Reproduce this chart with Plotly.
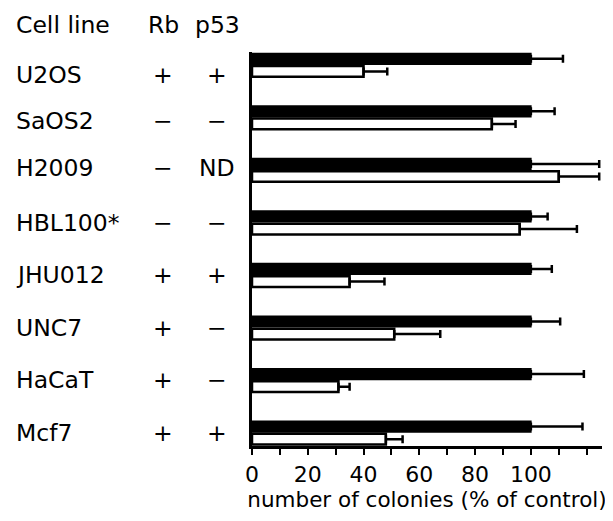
import plotly.graph_objects as go

cell_lines = ["U2OS", "SaOS2", "H2009", "HBL100*", "JHU012", "UNC7", "HaCaT", "Mcf7"]
rb_status = ["+", "−", "−", "−", "+", "+", "+", "+"]
p53_status = ["+", "−", "ND", "−", "+", "−", "−", "+"]

control_values = [100, 100, 100, 100, 100, 100, 100, 100]
control_err = [11.5, 8.5, 24.5, 6, 7.5, 10.5, 19, 18.5]
treated_values = [40, 86, 110, 96, 35, 51, 31, 48]
treated_err = [8.5, 8.5, 14.5, 20.5, 12.5, 16.5, 4, 6]

tick_vals = [0, 10, 20, 30, 40, 50, 60, 70, 80, 90, 100, 110, 120]
tick_text = ["0", "", "20", "", "40", "", "60", "", "80", "", "100", "", ""]

FONT = "DejaVu Sans"
LABEL_SIZE = 23.5
positions = list(range(len(cell_lines)))

fig = go.Figure()
fig.add_trace(go.Bar(
    y=positions, x=control_values, orientation="h",
    marker=dict(color="black", line=dict(color="black", width=1.5)),
    error_x=dict(type="data", symmetric=False, array=control_err,
                 arrayminus=[0] * len(control_err), color="black",
                 thickness=2.5, width=4),
    showlegend=False,
))
fig.add_trace(go.Bar(
    y=positions, x=treated_values, orientation="h",
    marker=dict(color="white", line=dict(color="black", width=2.5)),
    error_x=dict(type="data", symmetric=False, array=treated_err,
                 arrayminus=[0] * len(treated_err), color="black",
                 thickness=2.5, width=4),
    showlegend=False,
))

# small vertical nudges of the row labels, as in the original layout
row_nudge = {"U2OS": -10, "SaOS2": -3, "H2009": 2}

annotations = []
x_name, x_rb, x_p53 = -0.68, -0.253, -0.10
for i, (name, rb, p53) in enumerate(zip(cell_lines, rb_status, p53_status)):
    ys = row_nudge.get(name, 0)
    for txt, xx, anchor in [(name, x_name, "left"), (rb, x_rb, "center"), (p53, x_p53, "center")]:
        annotations.append(dict(x=xx, y=i, xref="paper", yref="y", text=txt,
                                showarrow=False, xanchor=anchor, yanchor="middle",
                                yshift=ys,
                                font=dict(size=LABEL_SIZE, family=FONT, color="black")))
for txt, xx, anchor in [("Cell line", x_name, "left"), ("Rb", x_rb, "center"), ("p53", x_p53, "center")]:
    annotations.append(dict(x=xx, y=1.068, xref="paper", yref="paper", text=txt,
                            showarrow=False, xanchor=anchor, yanchor="middle",
                            font=dict(size=LABEL_SIZE, family=FONT, color="black")))

fig.update_layout(
    width=605, height=513,
    margin=dict(l=244, r=11, t=44, b=75),
    paper_bgcolor="white", plot_bgcolor="white",
    barmode="group", bargap=0.52, bargroupgap=0.15,
    font=dict(family=FONT, size=22, color="black"),
    annotations=annotations,
    xaxis=dict(range=[0, 125.5], tickvals=tick_vals, ticktext=tick_text,
               ticks="outside", ticklen=6, tickwidth=2, tickcolor="black",
               showline=True, linewidth=2.5, linecolor="black",
               showgrid=False, zeroline=False, ticklabelstandoff=1,
               automargin=False,
               tickfont=dict(size=22, family=FONT),
               title=dict(text="number of colonies (% of control)",
                          font=dict(size=21.5, family=FONT), standoff=0)),
    yaxis=dict(range=[7.25, -0.25], showticklabels=False, ticks="",
               showline=True, linewidth=3, linecolor="black",
               showgrid=False, zeroline=False, automargin=False),
)

fig.write_html("out.html")
